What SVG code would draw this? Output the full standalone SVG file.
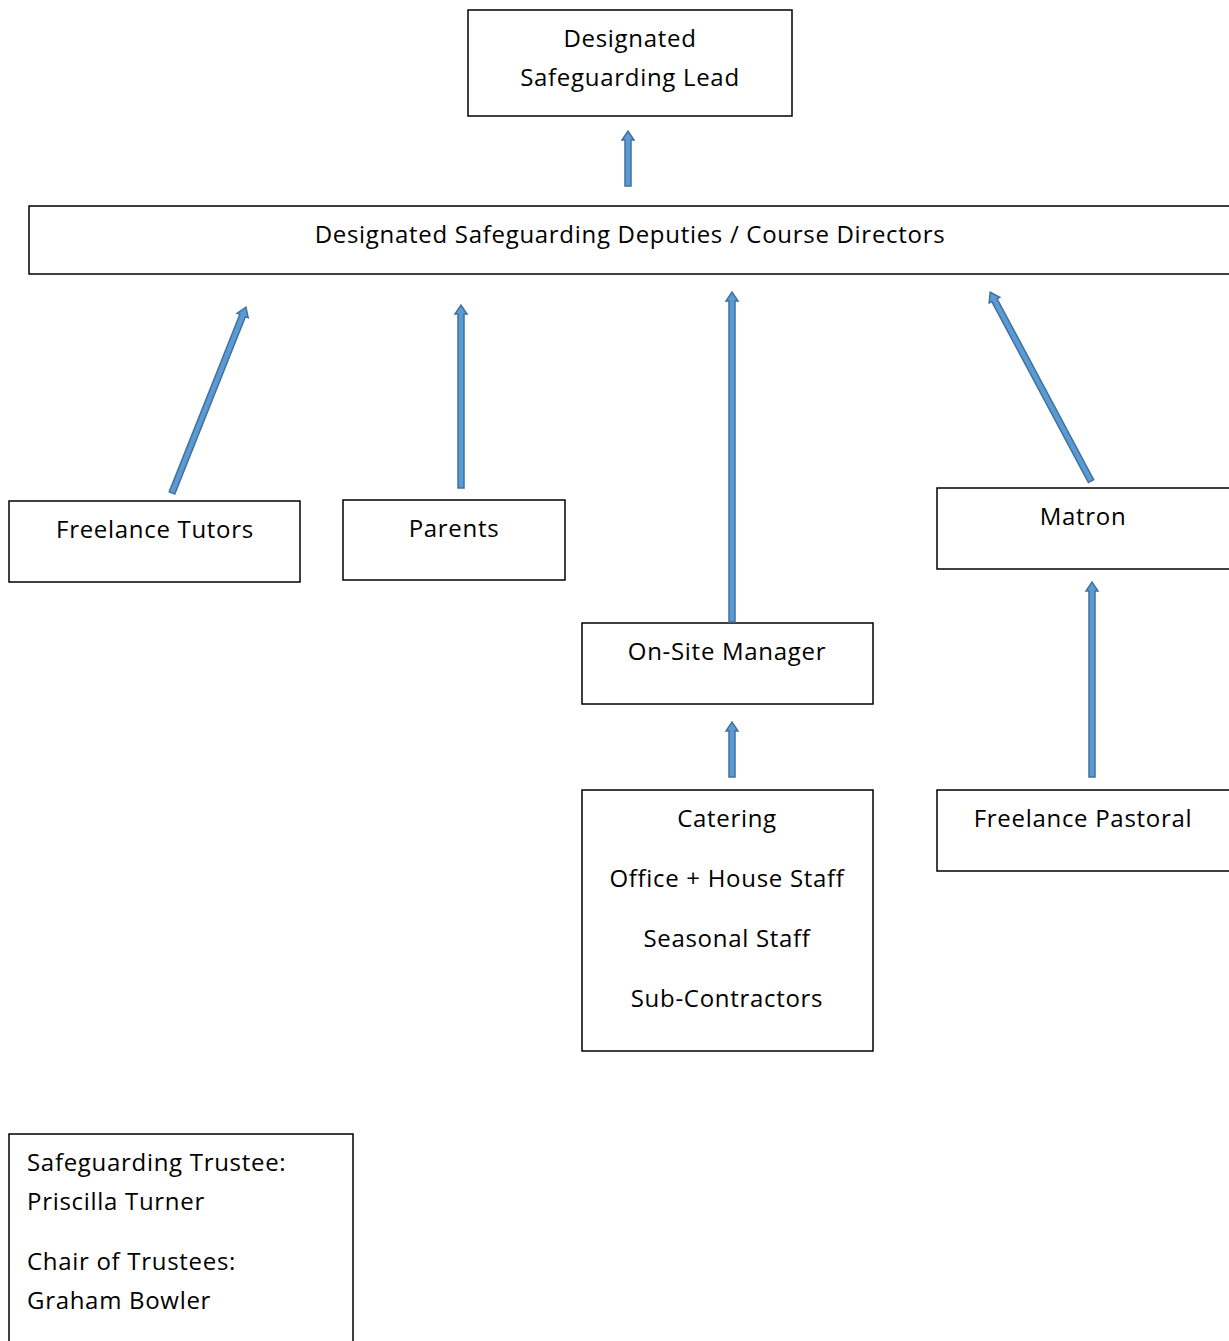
<svg xmlns="http://www.w3.org/2000/svg" width="1229" height="1341" viewBox="0 0 1229 1341">
<style>
.box{fill:#fff;stroke:#000;stroke-width:1.5}
text{font-family:"Open Sans","Liberation Sans",Arial,sans-serif;font-size:24px;letter-spacing:0.7px;fill:#000}
.c{text-anchor:middle}
.arr{fill:#5B9BD5;stroke:#41719C;stroke-width:1.5;stroke-linejoin:miter}
</style>
<rect width="1229" height="1341" fill="#fff"/>
<g id="dsl"><rect class="box" x="468" y="10" width="324" height="106"/>
<text class="c" x="630" y="47">Designated</text><text class="c" x="630" y="86">Safeguarding Lead</text></g>
<g id="deputies"><rect class="box" x="29" y="206" width="1210" height="68"/>
<text class="c" x="630" y="243">Designated Safeguarding Deputies / Course Directors</text></g>
<g id="tutors"><rect class="box" x="9" y="501" width="291" height="81"/>
<text class="c" x="155" y="538">Freelance Tutors</text></g>
<g id="parents"><rect class="box" x="343" y="500" width="222" height="80"/>
<text class="c" x="454" y="537">Parents</text></g>
<g id="matron"><rect class="box" x="937" y="488" width="302" height="81"/>
<text class="c" x="1083" y="525">Matron</text></g>
<g id="onsite"><rect class="box" x="582" y="623" width="291" height="81"/>
<text class="c" x="727" y="660">On-Site Manager</text></g>
<g id="staff"><rect class="box" x="582" y="790" width="291" height="261"/>
<text class="c" x="727" y="827">Catering</text>
<text class="c" x="727" y="887">Office + House Staff</text>
<text class="c" x="727" y="947">Seasonal Staff</text>
<text class="c" x="727" y="1007">Sub-Contractors</text></g>
<g id="pastoral"><rect class="box" x="937" y="790" width="302" height="81"/>
<text class="c" x="1083" y="827">Freelance Pastoral</text></g>
<g id="trustees"><rect class="box" x="9" y="1134" width="344" height="220"/>
<text x="27" y="1171">Safeguarding Trustee:</text>
<text x="27" y="1210">Priscilla Turner</text>
<text x="27" y="1270">Chair of Trustees:</text>
<text x="27" y="1309">Graham Bowler</text></g>
<g id="connectors">
<path class="arr" d="M625,186 V140 H622 L628,131 L634,140 H631 V186 Z"/>
<path class="arr" transform="translate(172,493) rotate(21.7)" d="M-3,0 V-191 H-6 L0,-200 L6,-191 H3 V0 Z"/>
<path class="arr" d="M458,488 V314 H455 L461,305 L467,314 H464 V488 Z"/>
<path class="arr" d="M729,622 V301 H726 L732,292 L738,301 H735 V622 Z"/>
<path class="arr" transform="translate(1091,481) rotate(-28.1)" d="M-3,0 V-205 H-6 L0,-214 L6,-205 H3 V0 Z"/>
<path class="arr" d="M729,777 V731 H726 L732,722 L738,731 H735 V777 Z"/>
<path class="arr" d="M1089,777 V591 H1086 L1092,582 L1098,591 H1095 V777 Z"/>
</g>
</svg>
